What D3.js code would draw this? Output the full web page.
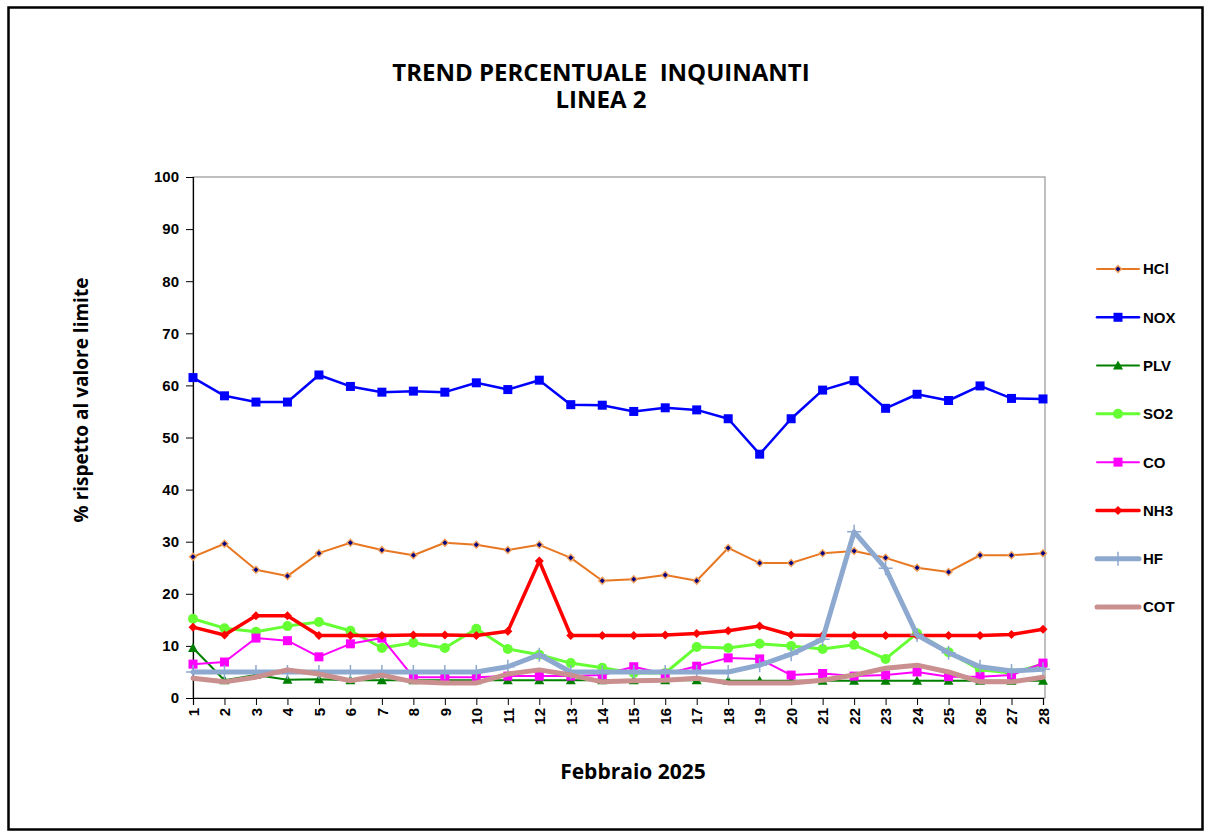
<!DOCTYPE html>
<html>
<head>
<meta charset="utf-8">
<script src="https://cdn.jsdelivr.net/npm/d3@7"></script>
<style>
  body { margin: 0; background: #fff; }
  svg { display: block; }
</style>
</head>
<body>
<svg id="chart" width="1210" height="833"></svg>
<script>
// days of february
var days = d3.range(1, 29);

var hcl = [27.1, 29.6, 24.6, 23.4, 27.8, 29.8, 28.4, 27.4, 29.8, 29.4, 28.4, 29.4, 26.9, 22.5,
           22.8, 23.6, 22.5, 28.8, 25.9, 25.9, 27.8, 28.2, 26.9, 25.0, 24.2, 27.4, 27.4, 27.8];
var nox = [61.5, 58.0, 56.8, 56.8, 62.0, 59.8, 58.7, 58.9, 58.7, 60.5, 59.2, 61.0, 56.3, 56.2,
           55.0, 55.7, 55.3, 53.6, 46.8, 53.6, 59.1, 60.9, 55.6, 58.3, 57.1, 59.9, 57.5, 57.4];
var plv = [9.6, 3.4, 4.4, 3.5, 3.6, 3.4, 3.4, 3.4, 3.4, 3.4, 3.4, 3.4, 3.4, 3.4,
           3.4, 3.4, 3.4, 3.3, 3.3, 3.3, 3.3, 3.3, 3.3, 3.3, 3.3, 3.3, 3.3, 3.3];
var so2 = [15.2, 13.4, 12.7, 13.8, 14.6, 12.9, 9.6, 10.6, 9.6, 13.3, 9.4, 8.3, 6.7, 5.8,
           4.8, 4.8, 9.8, 9.6, 10.4, 10.0, 9.4, 10.2, 7.5, 12.4, 8.8, 5.4, 4.8, 6.5];
var co = [6.5, 6.9, 11.5, 11.0, 7.9, 10.4, 11.5, 4.0, 4.0, 4.0, 4.2, 4.2, 4.2, 4.4,
          6.0, 4.6, 6.1, 7.7, 7.5, 4.4, 4.7, 4.2, 4.4, 5.0, 4.1, 4.1, 4.4, 6.7];
var nh3 = [13.6, 12.1, 15.8, 15.8, 12.0, 12.0, 12.0, 12.1, 12.1, 12.0, 12.8, 26.3, 12.0, 12.0,
           12.0, 12.1, 12.4, 12.9, 13.8, 12.1, 12.0, 12.0, 12.0, 12.0, 12.0, 12.0, 12.2, 13.2];
var hf = [5.0, 5.0, 5.0, 5.0, 5.0, 5.0, 5.0, 5.0, 5.0, 5.0, 6.0, 8.3, 5.0, 5.0,
          5.0, 5.0, 5.0, 5.0, 6.3, 8.4, 11.3, 31.9, 24.9, 12.1, 8.7, 6.0, 5.2, 5.5];
var cot = [3.8, 3.1, 4.0, 5.4, 4.6, 3.3, 4.4, 3.1, 2.9, 2.9, 4.6, 5.4, 4.4, 3.1,
           3.3, 3.4, 3.8, 2.9, 2.9, 2.9, 3.4, 4.4, 5.7, 6.3, 5.0, 3.1, 3.1, 4.0];

var yTicks = d3.range(0, 101, 10);
var legendLabels = ["HCl", "NOX", "PLV", "SO2", "CO", "NH3", "HF", "COT"];

var series = [
  {name: "HCl", values: hcl, color: "#E87722", width: 2, marker: "hcl"},
  {name: "NOX", values: nox, color: "#0000FF", width: 2.5, marker: "square"},
  {name: "PLV", values: plv, color: "#008000", width: 2, marker: "triangle"},
  {name: "SO2", values: so2, color: "#66FF33", width: 3, marker: "circle"},
  {name: "CO", values: co, color: "#FF00FF", width: 2, marker: "square"},
  {name: "NH3", values: nh3, color: "#FF0000", width: 3.5, marker: "diamond"},
  {name: "HF", values: hf, color: "#8EA9CF", width: 5, marker: "plus"},
  {name: "COT", values: cot, color: "#C9908F", width: 5, marker: "none"}
];

var svg = d3.select("#chart");

// outer frame
svg.append("rect")
  .attr("x", 8.5).attr("y", 7.5)
  .attr("width", 1194).attr("height", 822)
  .attr("fill", "none").attr("stroke", "#000").attr("stroke-width", 2.5);

var pLeft = 193, pRight = 1045, pTop = 177, pBottom = 698;

var x = d3.scaleLinear().domain([1, 28]).range([pLeft, 1043]);
var y = d3.scaleLinear().domain([0, 100]).range([pBottom, pTop]);

// plot frame
svg.append("rect")
  .attr("x", pLeft).attr("y", pTop)
  .attr("width", pRight - pLeft).attr("height", pBottom - pTop)
  .attr("fill", "none").attr("stroke", "#808080").attr("stroke-width", 1);

// y axis
var yAxis = svg.append("g")
  .attr("transform", "translate(" + pLeft + ",0)")
  .call(d3.axisLeft(y).tickValues(yTicks).tickSize(7).tickPadding(7));
yAxis.select(".domain").attr("stroke", "#000").attr("stroke-width", 1.2);
yAxis.selectAll("text")
  .attr("font-family", "Liberation Sans, Arial, sans-serif")
  .attr("font-weight", "bold").attr("font-size", 15).attr("fill", "#000");

// x axis
var xAxis = svg.append("g")
  .attr("transform", "translate(0," + pBottom + ")")
  .call(d3.axisBottom(x).tickValues(days).tickFormat(d3.format("d")).tickSize(7));
xAxis.select(".domain").attr("stroke", "#000").attr("stroke-width", 1.2);
xAxis.selectAll("text")
  .attr("font-family", "Liberation Sans, Arial, sans-serif")
  .attr("font-weight", "bold").attr("font-size", 15).attr("fill", "#000")
  .attr("text-anchor", "end")
  .attr("dy", "0.35em")
  .attr("transform", "rotate(-90)")
  .attr("x", -10).attr("y", 0);

// title, two lines in one text element
var title = svg.append("text")
  .attr("text-anchor", "middle")
  .attr("font-family", "Open Sans, sans-serif").attr("font-weight", "bold").attr("font-size", 24)
  .attr("xml:space", "preserve");
title.append("tspan").attr("x", 601).attr("y", 81).text("TREND PERCENTUALE  INQUINANTI");
title.append("tspan").attr("x", 601).attr("y", 108).text("LINEA 2");

svg.append("text")
  .attr("transform", "translate(88,400) rotate(-90)")
  .attr("text-anchor", "middle")
  .attr("font-family", "Open Sans, sans-serif").attr("font-weight", "bold").attr("font-size", 19)
  .text("% rispetto al valore limite");

svg.append("text")
  .attr("x", 633).attr("y", 779)
  .attr("text-anchor", "middle")
  .attr("font-family", "Open Sans, sans-serif").attr("font-weight", "bold").attr("font-size", 21)
  .text("Febbraio 2025");

function drawMarker(g, s, cx, cy) {
  var m = s.marker;
  if (m === "square") {
    g.append("rect").attr("x", cx - 4.5).attr("y", cy - 4.5).attr("width", 9).attr("height", 9)
      .attr("fill", s.color);
  } else if (m === "triangle") {
    g.append("path").attr("transform", "translate(" + cx + "," + cy + ")")
      .attr("d", "M0,-5L5,4L-5,4Z").attr("fill", s.color);
  } else if (m === "circle") {
    g.append("circle").attr("cx", cx).attr("cy", cy).attr("r", 5).attr("fill", s.color);
  } else if (m === "diamond") {
    g.append("path").attr("transform", "translate(" + cx + "," + cy + ")")
      .attr("d", "M0,-4.5L4.5,0L0,4.5L-4.5,0Z").attr("fill", s.color);
  } else if (m === "hcl") {
    g.append("path").attr("transform", "translate(" + cx + "," + cy + ")")
      .attr("d", "M0,-4.5L4.5,0L0,4.5L-4.5,0Z").attr("fill", "#F2A25E");
    g.append("path").attr("transform", "translate(" + cx + "," + cy + ")")
      .attr("d", "M0,-2.5L2.5,0L0,2.5L-2.5,0Z").attr("fill", "#000080");
  } else if (m === "plus") {
    g.append("path").attr("transform", "translate(" + cx + "," + cy + ")")
      .attr("d", "M-7,0H7M0,-7V7").attr("stroke", s.color).attr("stroke-width", 1.5);
  }
}

var line = d3.line()
  .x(function(d, i) { return x(days[i]); })
  .y(function(d) { return y(d); });

// series order like excel: later ones on top
series.forEach(function(s) {
  var g = svg.append("g");
  g.append("path")
    .datum(s.values)
    .attr("d", line)
    .attr("fill", "none")
    .attr("stroke", s.color)
    .attr("stroke-width", s.width)
    .attr("stroke-linejoin", "round")
    .attr("stroke-linecap", "round");
  s.values.forEach(function(v, i) {
    drawMarker(g, s, x(days[i]), y(v));
  });
});

// legend
var legendY = d3.scalePoint().domain(legendLabels).range([269, 607]);
series.forEach(function(s, i) {
  var ly = legendY(legendLabels[i]);
  var g = svg.append("g");
  g.append("line")
    .attr("x1", 1097).attr("x2", 1139).attr("y1", ly).attr("y2", ly)
    .attr("stroke", s.color).attr("stroke-width", s.width)
    .attr("stroke-linecap", "round");
  drawMarker(g, s, 1118, ly);
  g.append("text")
    .attr("x", 1143).attr("y", ly).attr("dy", "0.36em")
    .attr("font-family", "Liberation Sans, Arial, sans-serif")
    .attr("font-weight", "bold").attr("font-size", 15)
    .text(legendLabels[i]);
});
</script>
</body>
</html>
